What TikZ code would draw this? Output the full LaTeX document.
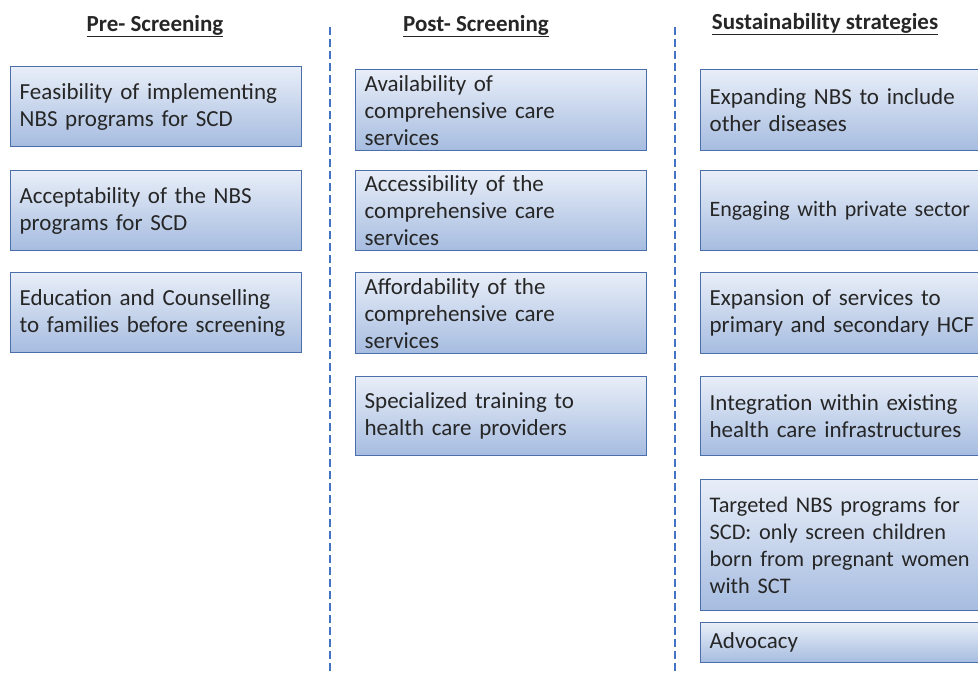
\documentclass[tikz,border=0pt]{standalone}
\usepackage{fontspec}
\setmainfont{Carlito}
\definecolor{boxtop}{RGB}{232,238,248}
\definecolor{boxbot}{RGB}{166,188,224}
\definecolor{boxedge}{RGB}{76,110,170}
\definecolor{dashblue}{RGB}{68,114,196}
\tikzset{
  card/.style={draw=boxedge, line width=1.3pt, top color=boxtop, bottom color=boxbot,
    anchor=north west, inner xsep=9pt, inner ysep=0pt, align=left,
    font=\fontsize{23}{27}\selectfont, text=black!85},
  head/.style={font=\fontsize{23}{27}\selectfont\bfseries, text=black!85},
  divider/.style={draw=dashblue, line width=2.6pt, dash pattern=on 8pt off 4pt}
}
\newcommand{\mycard}[6]{% name, x, y, w, h, text
  \node[card, text width=#4pt-18pt, minimum height=#5pt] (#1) at (#2,#3) {#6};}
\begin{document}
\begin{tikzpicture}[x=1pt,y=-1pt]
\useasboundingbox (0,0) rectangle (978,673);
% headers
\node[head] (h1) at (155,26) {\underline{Pre- Screening}};
\node[head] (h2) at (476,26) {\underline{Post- Screening}};
\node[head] (h3) at (825,24) {\underline{Sustainability strategies}};
% dividers
\coordinate (d1a) at (330,27); \coordinate (d1b) at (330,673);
\coordinate (d2a) at (675,27); \coordinate (d2b) at (675,673);
\draw[divider] (d1a) -- (d1b);
\draw[divider] (d2a) -- (d2b);
% column 1
\mycard{a1}{10}{66}{291}{80}{Feasibility of implementing\\NBS programs for SCD}
\mycard{a2}{10}{170}{291}{80}{Acceptability of the NBS\\programs for SCD}
\mycard{a3}{10}{272}{291}{80}{Education and Counselling\\to families before screening}
% column 2
\mycard{b1}{355}{69}{291}{81}{Availability of\\comprehensive care\\services}
\mycard{b2}{355}{170}{291}{80}{Accessibility of the\\comprehensive care\\services}
\mycard{b3}{355}{272}{291}{81}{Affordability of the\\comprehensive care\\services}
\mycard{b4}{355}{376}{291}{79}{Specialized training to\\health care providers}
% column 3
\mycard{c1}{700}{69}{300}{81}{Expanding NBS to include\\other diseases}
\mycard{c2}{700}{170}{300}{80}{\fontsize{22}{27}\selectfont Engaging with private sector}
\mycard{c3}{700}{272}{300}{81}{Expansion of services to\\primary and secondary HCF}
\mycard{c4}{700}{376}{300}{79}{Integration within existing\\health care infrastructures}
\mycard{c5}{700}{479}{300}{131}{\fontsize{22.3}{27}\selectfont Targeted NBS programs for\\SCD: only screen children\\born from pregnant women\\with SCT}
\mycard{c6}{700}{622}{300}{40}{Advocacy}
\end{tikzpicture}
\end{document}
